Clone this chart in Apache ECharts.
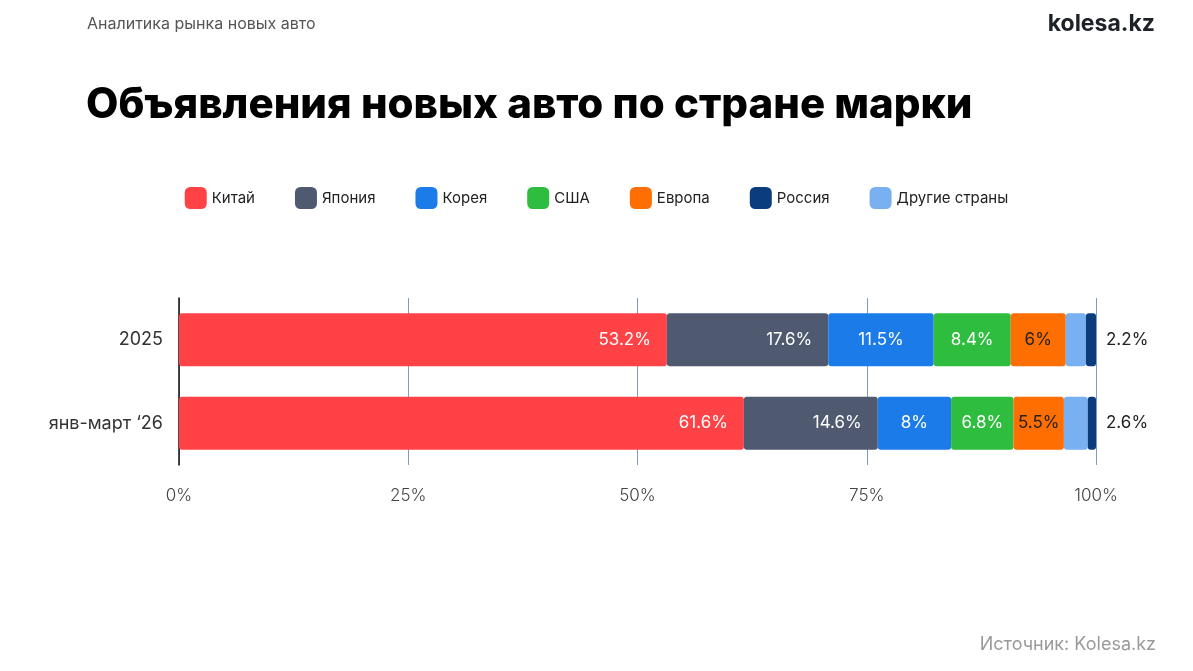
<!DOCTYPE html>
<html>
<head>
<meta charset="utf-8">
<script src="https://cdn.jsdelivr.net/npm/echarts@6/dist/echarts.min.js"></script>
<style>
  html, body { margin: 0; padding: 0; background: #fff; }
  #main { width: 1193px; height: 671px; }
</style>
</head>
<body>
<div id="main"></div>
<script>
// периоды (категории оси Y)
const periods = ['2025', 'янв-март \u201826']
// доли по стране марки, %
const china = [53.2, 61.6]
const japan = [17.6, 14.6]
const korea = [11.5, 8]
const usa = [8.4, 6.8]
const europe = [6, 5.5]
const others = [2.2, 2.6]
const russia = [1.1, 0.9]
const xTicks = [0, 25, 50, 75, 100]

const FONT = 'Inter, "Noto Sans", sans-serif'

const chart = echarts.init(document.getElementById('main'))

// общий стиль сегмента
function seg(name, data, color, labelColor, labelPos) {
  return {
    name: name,
    type: 'bar',
    stack: 'total',
    data: data,
    barWidth: 53,
    itemStyle: { color: color, borderRadius: 3 },
    label: {
      show: !!labelPos,
      position: labelPos || 'inside',
      distance: 16,
      color: labelColor,
      fontFamily: FONT,
      fontSize: 17,
      formatter: (p) => p.value + '%',
    },
  }
}

const option = {
  animation: false,
  textStyle: { fontFamily: FONT },
  graphic: [
    {
      type: 'text',
      left: 87,
      top: 16,
      style: { text: 'Аналитика рынка новых авто', fill: '#555', font: '16px ' + FONT },
    },
    {
      type: 'text',
      right: 38,
      top: 13,
      style: { text: 'kolesa.kz', fill: '#1d2128', font: 'bold 23px ' + FONT },
    },
    {
      type: 'text',
      left: 86,
      top: 84,
      style: { text: 'Объявления новых авто по стране марки', fill: '#000', font: '800 42px ' + FONT },
    },
    {
      type: 'text',
      right: 37,
      top: 636,
      style: { text: 'Источник: Kolesa.kz', fill: '#9a9a9a', font: '18px ' + FONT },
    },
  ],
  legend: {
    top: 182,
    left: 'center',
    itemWidth: 22,
    itemHeight: 22,
    itemGap: 40,
    icon: 'roundRect',
    data: ['Китай', 'Япония', 'Корея', 'США', 'Европа', 'Россия', 'Другие страны'],
    textStyle: { color: '#222', fontSize: 15, fontFamily: FONT },
  },
  grid: {
    left: 179,
    right: 97,
    top: 298,
    bottom: 206,
  },
  xAxis: {
    type: 'value',
    min: 0,
    max: 100,
    interval: 25,
    axisLabel: {
      color: '#444',
      fontSize: 17,
      margin: 22,
      fontWeight: 300,
      formatter: (v) => (xTicks.indexOf(v) >= 0 ? v + '%' : ''),
    },
    axisLine: { show: false },
    axisTick: { show: false },
    splitLine: { show: true, lineStyle: { color: '#7f9cc0', width: 1 } },
  },
  yAxis: {
    type: 'category',
    data: periods,
    inverse: true,
    axisLine: { show: true, lineStyle: { color: '#111', width: 1.5 } },
    axisTick: { show: false },
    axisLabel: { color: '#333', fontSize: 18, margin: 16 },
  },
  series: [
    seg('Китай', china, '#fe4245', '#fff', 'insideRight'),
    seg('Япония', japan, '#4f5a71', '#fff', 'insideRight'),
    seg('Корея', korea, '#1b7be8', '#fff', 'inside'),
    seg('США', usa, '#2ebd3f', '#fff', 'inside'),
    seg('Европа', europe, '#ff6e00', '#222', 'inside'),
    seg('Другие страны', others, '#78b0f1', '#222', null),
    {
      name: 'Россия',
      type: 'bar',
      stack: 'total',
      data: russia,
      barWidth: 53,
      itemStyle: { color: '#0b3d7d', borderRadius: 3 },
      // подпись «Другие страны» выносим справа от столбца
      label: {
        show: true,
        position: 'right',
        distance: 10,
        color: '#222',
        fontSize: 17,
        formatter: (p) => others[p.dataIndex] + '%',
      },
    },
  ],
}

chart.setOption(option)
</script>
</body>
</html>
